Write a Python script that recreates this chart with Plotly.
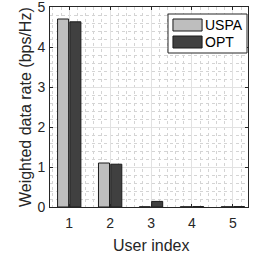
import plotly.graph_objects as go

users = [1, 2, 3, 4, 5]
uspa = [4.70, 1.10, 0.005, 0.005, 0.005]
opt = [4.63, 1.07, 0.14, 0.01, 0.01]
yticks = [0, 1, 2, 3, 4, 5]
series_names = ["USPA", "OPT"]
series_colors = ["#bebebe", "#404040"]
x_title = "User index"
y_title = "Weighted data rate (bps/Hz)"

fig = go.Figure()
for name, vals, col in zip(series_names, [uspa, opt], series_colors):
    fig.add_trace(go.Bar(x=users, y=vals, name=name,
                         marker=dict(color=col, line=dict(color="#1a1a1a", width=1))))

font = "Liberation Sans, Arial, sans-serif"
axis_common = dict(
    ticks="inside", ticklen=3, tickcolor="#262626",
    showline=True, linecolor="#262626", linewidth=1, mirror="ticks",
    showgrid=True, gridcolor="#e2e2e2", gridwidth=1, zeroline=False,
    minor=dict(dtick=0.2, showgrid=True, gridcolor="#d4d4d4", griddash="dot", gridwidth=1),
    tickfont=dict(size=14, color="#262626"), automargin=False,
    ticklabeloverflow="allow",
)
fig.update_layout(
    width=264, height=257,
    margin=dict(l=50, r=16, t=7, b=50),
    paper_bgcolor="white", plot_bgcolor="white",
    barmode="group", bargap=0.4, bargroupgap=0.1,
    font=dict(family=font, size=14, color="#262626"),
    showlegend=False,
)
fig.update_xaxes(range=[0.53, 5.37], tickvals=users, ticklabelstandoff=3, **axis_common)
fig.update_yaxes(range=[0, 5], tickvals=yticks, ticklabelstandoff=1, **axis_common)

# axis titles
fig.add_annotation(xref="paper", yref="paper", x=0.51, y=-0.19, text=x_title, showarrow=False,
                   xanchor="center", yanchor="middle", font=dict(size=16, color="#262626"))
fig.add_annotation(xref="paper", yref="paper", x=-0.126, y=0.5, text=y_title, showarrow=False,
                   textangle=-90, xanchor="center", yanchor="middle", font=dict(size=16, color="#262626"))

# legend box (drawn in plot-area paper coordinates)
fig.add_shape(type="rect", xref="paper", yref="paper", x0=0.596, x1=0.995, y0=0.77, y1=0.965,
              line=dict(color="#262626", width=1), fillcolor="white", layer="above")
sw_y = [(0.88, 0.94), (0.795, 0.855)]
for (y0, y1), name, col in zip(sw_y, series_names, series_colors):
    fig.add_shape(type="rect", xref="paper", yref="paper", x0=0.621, x1=0.768, y0=y0, y1=y1,
                  line=dict(color="#1a1a1a", width=1), fillcolor=col, layer="above")
    fig.add_annotation(xref="paper", yref="paper", x=0.772, y=(y0 + y1) / 2, text=name,
                       showarrow=False, xanchor="left", yanchor="middle",
                       font=dict(size=14, color="black"))
fig.write_html("out.html", config={"displayModeBar": False},
               post_script="document.body.style.margin='0';")
